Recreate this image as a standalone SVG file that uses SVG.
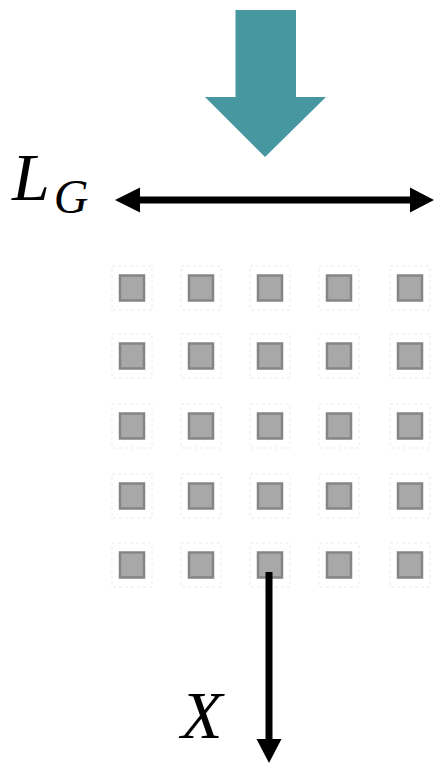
<svg xmlns="http://www.w3.org/2000/svg" width="434" height="765" viewBox="0 0 434 765">
<style>
.sq{fill:#a8a8a8;stroke:#858585;stroke-width:2.5}
.halo{fill:none;stroke:#f5f5f5;stroke-width:2;stroke-dasharray:3 3}
.conn{stroke:#000;stroke-width:7;fill:none}
.lbl{font-family:"Liberation Serif","Times New Roman",serif;font-style:italic;fill:#000}
</style>
<defs>
<g id="cell">
<rect class="halo" x="-20" y="-22" width="40" height="44"/>
<rect class="sq" x="-12" y="-12.5" width="24" height="25"/>
</g>
</defs>
<g id="beam">
<polygon points="235.5,10 296,10 296,97 326,97 265,157 205,97 235.5,97" fill="#4797a0"/>
</g>
<g id="label-LG">
<text class="lbl" x="12" y="200" font-size="68">L<tspan font-size="48" dx="4" dy="13">G</tspan></text>
</g>
<g id="label-X">
<text class="lbl" x="181" y="738" font-size="68">X</text>
</g>
<g id="grid">
<use href="#cell" x="132" y="288"/><use href="#cell" x="201" y="288"/><use href="#cell" x="270" y="288"/><use href="#cell" x="339" y="288"/><use href="#cell" x="410" y="288"/>
<use href="#cell" x="132" y="356"/><use href="#cell" x="201" y="356"/><use href="#cell" x="270" y="356"/><use href="#cell" x="339" y="356"/><use href="#cell" x="410" y="356"/>
<use href="#cell" x="132" y="426"/><use href="#cell" x="201" y="426"/><use href="#cell" x="270" y="426"/><use href="#cell" x="339" y="426"/><use href="#cell" x="410" y="426"/>
<use href="#cell" x="132" y="496"/><use href="#cell" x="201" y="496"/><use href="#cell" x="270" y="496"/><use href="#cell" x="339" y="496"/><use href="#cell" x="410" y="496"/>
<use href="#cell" x="132" y="565"/><use href="#cell" x="201" y="565"/><use href="#cell" x="270" y="565"/><use href="#cell" x="339" y="565"/><use href="#cell" x="410" y="565"/>
</g>
<g id="connectors">
<line class="conn" x1="136" y1="200" x2="412" y2="200"/>
<polygon points="115,200 140,187.5 140,212.5" fill="#000"/>
<polygon points="434,200 410,187.5 410,212.5" fill="#000"/>
<line class="conn" x1="269" y1="572" x2="269" y2="742"/>
<polygon points="269,763 256.5,739 281.5,739" fill="#000"/>
</g>
</svg>
